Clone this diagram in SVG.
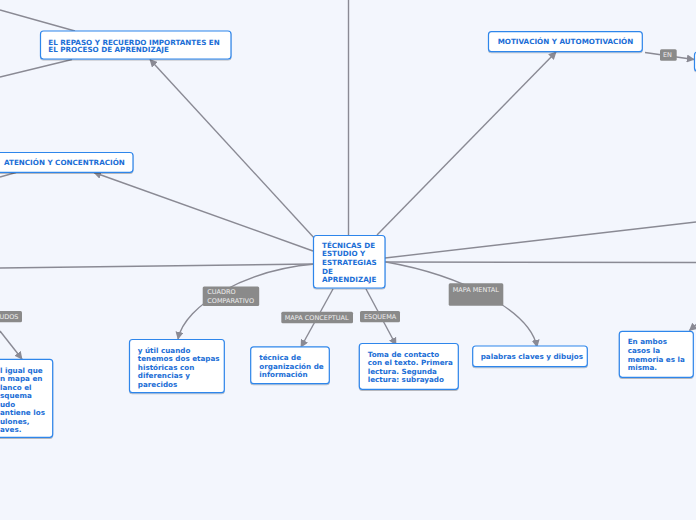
<svg xmlns="http://www.w3.org/2000/svg" width="696" height="520" viewBox="0 0 696 520">
<style>
.bg{fill:#f3f6fd}
.box{fill:#ffffff;stroke:#2f86eb;stroke-width:1.2;filter:url(#sh)}
.t{font-family:"DejaVu Sans",Verdana,sans-serif;font-weight:bold;font-size:7.2px;fill:#1b6ed6}
.c{fill:none;stroke:#8a8a94;stroke-width:1.4}
.ca{fill:none;stroke:#8a8a94;stroke-width:1.4;marker-end:url(#ah)}
.lb{fill:#8a8a8a}
.lt{font-family:"DejaVu Sans",Verdana,sans-serif;font-size:6.5px;fill:#eeeeee}
</style>
<defs>
<filter id="sh" x="-10%" y="-20%" width="120%" height="150%">
<feDropShadow dx="0" dy="1" stdDeviation="0.7" flood-color="#000" flood-opacity="0.25"/>
</filter>
<marker id="ah" viewBox="0 0 10 10" refX="9" refY="5" markerWidth="8" markerHeight="8" markerUnits="userSpaceOnUse" orient="auto">
<path d="M0,0 L10,5 L0,10 z" fill="#8a8a94"/>
</marker>
</defs>
<rect class="bg" x="0" y="0" width="696" height="520"/>
<g id="connectors">
<line class="c" x1="348.5" y1="0" x2="348.5" y2="235"/>
<line class="ca" x1="316" y1="240" x2="150" y2="59.5"/>
<line class="ca" x1="313" y1="251" x2="94" y2="172.5"/>
<line class="c" x1="313" y1="264" x2="0" y2="268"/>
<line class="ca" x1="377" y1="235" x2="556" y2="52"/>
<line class="c" x1="385" y1="258" x2="696" y2="222"/>
<line class="c" x1="385" y1="262" x2="696" y2="262.5"/>
<line class="c" x1="0" y1="10" x2="75" y2="31"/>
<line class="c" x1="0" y1="77" x2="72" y2="59.5"/>
<line class="c" x1="0" y1="177" x2="16" y2="172.5"/>
<path class="ca" d="M 315 264 C 245 270, 185 305, 178 339"/>
<path class="ca" d="M 386 262 C 460 275, 530 310, 537 347"/>
<line class="ca" x1="333" y1="289" x2="301" y2="347"/>
<line class="ca" x1="366" y1="289" x2="396" y2="345"/>
<line class="ca" x1="0" y1="331" x2="22" y2="359"/>
<line class="ca" x1="698" y1="323" x2="689.5" y2="330.5"/>
<line class="ca" x1="645" y1="52.5" x2="694" y2="59.5"/>
<rect class="lb" x="202.7" y="286.5" width="56.5" height="19.5" rx="1.5"/>
<text class="lt" x="207.3" y="294.2">CUADRO</text>
<text class="lt" x="207.3" y="302.6">COMPARATIVO</text>
<rect class="lb" x="281.3" y="311.7" width="71.7" height="11.6" rx="1.5"/>
<text class="lt" x="284.7" y="319.7">MAPA CONCEPTUAL</text>
<rect class="lb" x="360" y="311" width="40" height="11.3" rx="1.5"/>
<text class="lt" x="364" y="319">ESQUEMA</text>
<rect class="lb" x="448.7" y="283.3" width="54.6" height="22.4" rx="1.5"/>
<text class="lt" x="452.7" y="291.7">MAPA MENTAL</text>
<rect class="lb" x="-10" y="311" width="32" height="11.3" rx="1.5"/>
<text class="lt" x="18.5" y="319" text-anchor="end">UDOS</text>
<rect class="lb" x="660" y="49.3" width="16.7" height="11.4" rx="1.5"/>
<text class="lt" x="663" y="57">EN</text>
</g>
<g id="center">
<rect class="box" x="313.5" y="235.5" width="71.5" height="52.5" rx="3"/>
<text class="t" x="322" y="247.8">TÉCNICAS DE</text>
<text class="t" x="322" y="256.4">ESTUDIO Y</text>
<text class="t" x="322" y="265">ESTRATEGIAS</text>
<text class="t" x="322" y="273.6">DE</text>
<text class="t" x="322" y="282.2">APRENDIZAJE</text>
</g>
<g id="repaso">
<rect class="box" x="40.5" y="31" width="190.5" height="28" rx="3"/>
<text class="t" x="48.3" y="44.6">EL REPASO Y RECUERDO IMPORTANTES EN</text>
<text class="t" x="48.3" y="52.2">EL PROCESO DE APRENDIZAJE</text>
</g>
<g id="atencion">
<rect class="box" x="-5" y="152.5" width="138" height="19.8" rx="3"/>
<text class="t" x="4" y="165.2">ATENCIÓN Y CONCENTRACIÓN</text>
</g>
<g id="motivacion">
<rect class="box" x="488.5" y="31.7" width="153.8" height="20" rx="3"/>
<text class="t" x="497.7" y="44.3">MOTIVACIÓN Y AUTOMOTIVACIÓN</text>
</g>
<g id="right-node">
<rect class="box" x="694.5" y="52" width="24" height="19" rx="3"/>
</g>
<g id="cuadro">
<rect class="box" x="129.5" y="339.5" width="94.8" height="53.2" rx="3"/>
<text class="t" x="137.8" y="352.6">y útil cuando</text>
<text class="t" x="137.8" y="361.2">tenemos dos etapas</text>
<text class="t" x="137.8" y="369.6">históricas con</text>
<text class="t" x="137.8" y="378.2">diferencias y</text>
<text class="t" x="137.8" y="386.6">parecidos</text>
</g>
<g id="concepto">
<rect class="box" x="250.7" y="346.8" width="78.6" height="36.9" rx="3"/>
<text class="t" x="259.3" y="360">técnica de</text>
<text class="t" x="259.3" y="368.5">organización de</text>
<text class="t" x="259.3" y="377">información</text>
</g>
<g id="esquema">
<rect class="box" x="359.3" y="343.5" width="99" height="45.8" rx="3"/>
<text class="t" x="367.7" y="356.6">Toma de contacto</text>
<text class="t" x="367.7" y="365">con el texto. Primera</text>
<text class="t" x="367.7" y="373.5">lectura. Segunda</text>
<text class="t" x="367.7" y="382">lectura: subrayado</text>
</g>
<g id="mental">
<rect class="box" x="472.7" y="346" width="114.6" height="20.7" rx="3"/>
<text class="t" x="480.7" y="359.2">palabras claves y dibujos</text>
</g>
<g id="ambos">
<rect class="box" x="619.3" y="331.3" width="74" height="46" rx="3"/>
<text class="t" x="627.7" y="344.3">En ambos</text>
<text class="t" x="627.7" y="353">casos la</text>
<text class="t" x="627.7" y="361.6">memoria es la</text>
<text class="t" x="627.7" y="370">misma.</text>
</g>
<g id="left-node">
<rect class="box" x="-5" y="359.3" width="57.7" height="78" rx="3"/>
<text class="t" x="0" y="372.5">l igual que</text>
<text class="t" x="0" y="381">n mapa en</text>
<text class="t" x="0" y="389.5">lanco el</text>
<text class="t" x="0" y="398">squema</text>
<text class="t" x="0" y="406.5">udo</text>
<text class="t" x="0" y="415">antiene los</text>
<text class="t" x="0" y="423.5">ulones,</text>
<text class="t" x="0" y="432">aves.</text>
</g>
</svg>
